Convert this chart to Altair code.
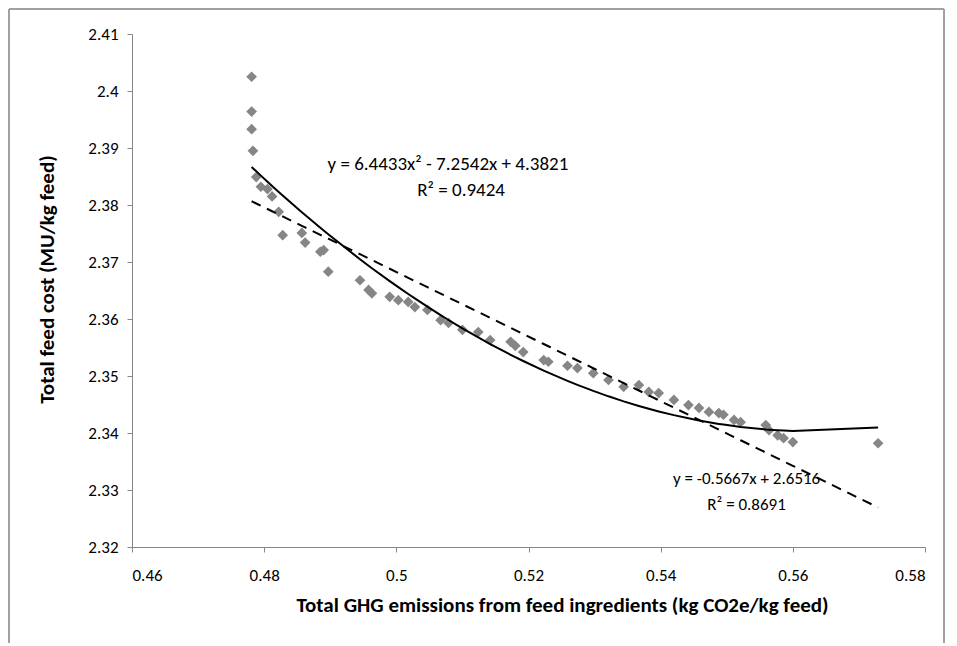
import altair as alt
import pandas as pd

# Data
ghg = [0.4781, 0.4781, 0.4781, 0.4783, 0.4788, 0.4795, 0.4805, 0.4812, 0.4822,
       0.4828, 0.4857, 0.4862, 0.4885, 0.4890, 0.4897,
       0.4945, 0.4958, 0.4963, 0.4990, 0.5003, 0.5018, 0.5028, 0.5047, 0.5067,
       0.5079, 0.5100, 0.5124, 0.5142, 0.5173, 0.5180, 0.5192, 0.5223, 0.5230,
       0.5259, 0.5274, 0.5298, 0.5321, 0.5344, 0.5367, 0.5382, 0.5397, 0.5420,
       0.5442, 0.5458, 0.5473, 0.5488, 0.5495, 0.5511, 0.5521, 0.5559, 0.5564,
       0.5577, 0.5586, 0.5600, 0.5729]
cost = [2.4025, 2.3964, 2.3933, 2.3895, 2.3849, 2.3832, 2.3828, 2.3815, 2.3788,
        2.3747, 2.3751, 2.3734, 2.3718, 2.3721, 2.3683,
        2.3668, 2.3651, 2.3645, 2.3639, 2.3633, 2.3630, 2.3621, 2.3616, 2.3598,
        2.3593, 2.3581, 2.3577, 2.3563, 2.3560, 2.3553, 2.3542, 2.3528, 2.3525,
        2.3518, 2.3514, 2.3505, 2.3493, 2.3481, 2.3484, 2.3472, 2.3470, 2.3458,
        2.3449, 2.3444, 2.3437, 2.3435, 2.3432, 2.3423, 2.3419, 2.3414, 2.3405,
        2.3396, 2.3391, 2.3384, 2.3382]

# Trendline coefficients as printed on the chart
poly_coef = [6.4433, -7.2542, 4.3821]
lin_coef = [-0.5667, 2.6516]

eq_text = ["y = 6.4433x² - 7.2542x + 4.3821", "R² = 0.9424",
           "y = -0.5667x + 2.6516", "R² = 0.8691"]
eq_x = [0.5078, 0.5098, 0.5530, 0.5530]
eq_y = [2.3872, 2.3826, 2.3320, 2.3274]
eq_size = [19, 19, 17, 17]

x_ticks = [0.46, 0.48, 0.5, 0.52, 0.54, 0.56, 0.58]
y_ticks = [2.32, 2.33, 2.34, 2.35, 2.36, 2.37, 2.38, 2.39, 2.4, 2.41]

FONT = "Calibri, Carlito, Roboto, sans-serif"

df = pd.DataFrame({"x": ghg, "y": cost})
ann = pd.DataFrame({"x": eq_x, "y": eq_y, "t": eq_text, "s": eq_size})

xs = alt.Scale(domain=[0.46, 0.58], nice=False, zero=False)
ys = alt.Scale(domain=[2.32, 2.41], nice=False, zero=False)

base = alt.Chart(df)

points = base.mark_point(shape="diamond", filled=True, color="#868686",
                         opacity=1, size=115).encode(
    x=alt.X("x:Q", scale=xs,
            axis=alt.Axis(title="Total GHG emissions from feed ingredients (kg CO2e/kg feed)",
                          values=x_ticks,
                          labelExpr="format(datum.value, '.2~f')",
                          grid=False, domainColor="#868686", tickColor="#868686",
                          tickSize=5, labelPadding=15, labelFontSize=17,
                          labelColor="#000000", labelFont=FONT,
                          titleFont=FONT, titleFontSize=21, titleFontWeight="bold",
                          titleColor="#000000", titlePadding=11, titleX=430)),
    y=alt.Y("y:Q", scale=ys,
            axis=alt.Axis(title="Total feed cost (MU/kg feed)",
                          values=y_ticks,
                          labelExpr="format(datum.value, '.2~f')",
                          grid=False, domainColor="#868686", tickColor="#868686",
                          tickSize=5, labelPadding=9, labelFontSize=17,
                          labelColor="#000000", labelFont=FONT,
                          titleFont=FONT, titleFontSize=21, titleFontWeight="bold",
                          titleColor="#000000", titlePadding=30, titleY=245)),
)

poly = base.transform_calculate(
    yp=f"{poly_coef[0]}*datum.x*datum.x + ({poly_coef[1]})*datum.x + {poly_coef[2]}"
).mark_line(color="#000000", strokeWidth=2).encode(
    x=alt.X("x:Q", scale=xs), y=alt.Y("yp:Q", scale=ys), order="x:Q")

lin = base.transform_calculate(
    yl=f"({lin_coef[0]})*datum.x + {lin_coef[1]}"
).mark_line(color="#000000", strokeWidth=2, strokeDash=[10, 7]).encode(
    x=alt.X("x:Q", scale=xs), y=alt.Y("yl:Q", scale=ys), order="x:Q")

labels = alt.Chart(ann).mark_text(font=FONT, color="#000000", align="center",
                                  baseline="middle").encode(
    x=alt.X("x:Q", scale=xs), y=alt.Y("y:Q", scale=ys), text="t:N",
    size=alt.Size("s:Q", scale=None, legend=None))

frame = alt.Chart(df).mark_rect(fill=None, stroke="#a0a0a0", strokeWidth=1).encode(
    x=alt.value(-123), x2=alt.value(812), y=alt.value(-25), y2=alt.value(700))

chart = alt.layer(points, lin, poly, labels, frame).properties(
    width=793, height=513,
    autosize=alt.AutoSizeParams(type="none"),
    padding={"left": 124, "top": 26, "right": 20, "bottom": 96},
).configure_view(stroke=None)

chart.save("out.html", embed_options={"renderer": "svg", "actions": False})
